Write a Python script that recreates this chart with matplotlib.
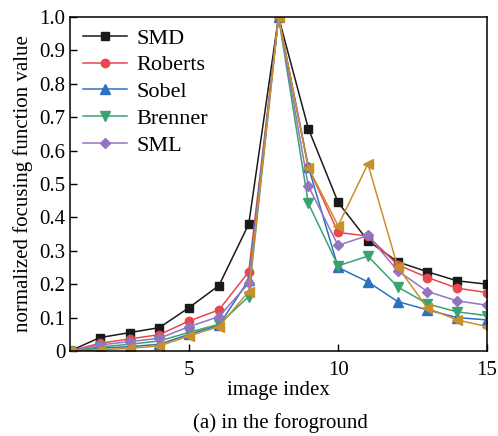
import numpy as np
import matplotlib.pyplot as plt

plt.rcParams['font.family'] = ['Liberation Serif', 'DejaVu Serif']
plt.rcParams['mathtext.fontset'] = 'stix'

# 数据
idx = np.arange(1, 16)
smd = [0, 0.04, 0.055, 0.07, 0.13, 0.196, 0.38, 1.0, 0.666, 0.445, 0.33, 0.267, 0.237, 0.21, 0.2]
roberts = [0, 0.023, 0.036, 0.049, 0.09, 0.123, 0.237, 1.0, 0.55, 0.355, 0.344, 0.258, 0.22, 0.188, 0.175]
sobel = [0, 0.008, 0.013, 0.02, 0.05, 0.077, 0.213, 1.0, 0.552, 0.25, 0.207, 0.148, 0.123, 0.1, 0.093]
brenner = [0, 0.012, 0.02, 0.03, 0.056, 0.08, 0.163, 1.0, 0.442, 0.255, 0.284, 0.192, 0.141, 0.117, 0.106]
sml = [0, 0.018, 0.028, 0.038, 0.073, 0.103, 0.203, 1.0, 0.494, 0.316, 0.346, 0.24, 0.178, 0.15, 0.137]
other = [0, 0.003, 0.008, 0.015, 0.045, 0.073, 0.178, 1.0, 0.549, 0.375, 0.56, 0.252, 0.128, 0.093, 0.073]

fig = plt.figure(figsize=(4.98, 4.36), dpi=100)
ax = fig.add_axes([0.1406, 0.195, 0.8374, 0.766])

ax.plot(idx, smd, color='#1a1a1a', marker='s', ms=5.5, lw=1.1, label='SMD')
ax.plot(idx, roberts, color='#e8474e', marker='o', ms=6, lw=1.1, label='Roberts')
ax.plot(idx, sobel, color='#2d72c0', marker='^', ms=6.5, lw=1.1, label='Sobel')
ax.plot(idx, brenner, color='#3aa36f', marker='v', ms=6.5, lw=1.1, label='Brenner')
ax.plot(idx, sml, color='#9474c0', marker='D', ms=5.5, lw=1.1, label='SML')
ax.plot(idx, other, color='#c8902a', marker='<', ms=6.5, lw=1.1, label='_nolegend_')

ax.set_xlim(1, 15)
ax.set_ylim(0, 1.0)
ax.set_xticks([5, 10, 15])
ax.set_yticks(np.arange(0, 1.01, 0.1))
ax.set_yticklabels(['0'] + ['%.1f' % v for v in np.arange(0.1, 1.01, 0.1)])
ax.tick_params(direction='in', labelsize=15, length=5, width=1, top=False, right=False)
ax.tick_params(axis='x', pad=7)
for s in ax.spines.values():
    s.set_linewidth(1.1)

ax.set_xlabel('image index', fontsize=15, labelpad=1)
ax.set_ylabel('normalized focusing function value', fontsize=15, labelpad=4)

ax.legend(loc='upper left', bbox_to_anchor=(0.012, 0.99), frameon=False, fontsize=16,
          handlelength=2.0, borderaxespad=0.25, borderpad=0.1, labelspacing=0.28,
          handletextpad=0.4)

fig.text(0.563, 0.03, '(a) in the foroground', ha='center', va='center', fontsize=15)

plt.savefig('out.png', dpi=100)
plt.close()
